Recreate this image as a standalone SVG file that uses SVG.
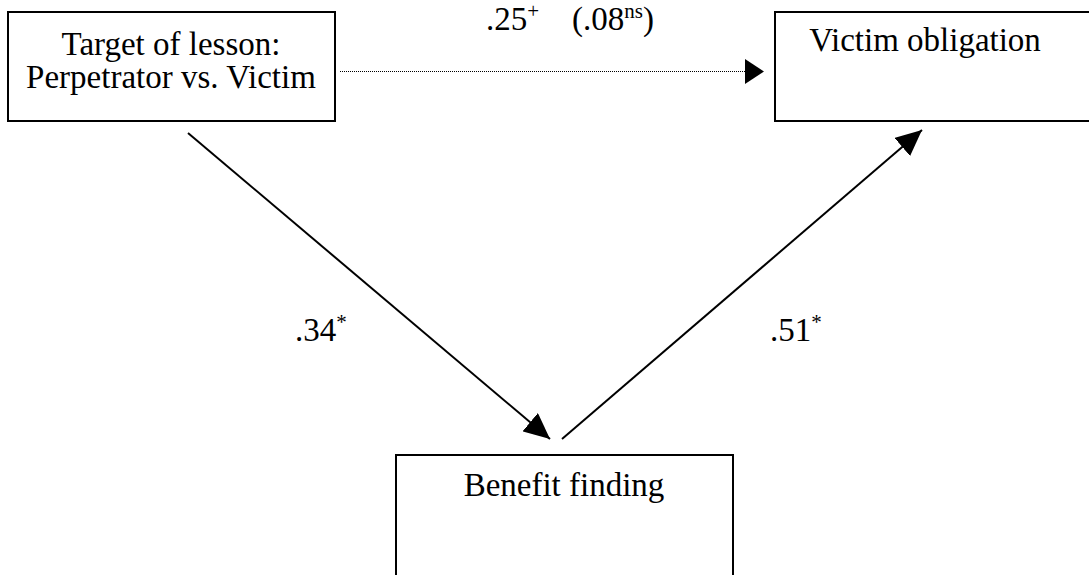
<svg xmlns="http://www.w3.org/2000/svg" width="1089" height="575" viewBox="0 0 1089 575">
<style>
.box{fill:#fff;stroke:#000;stroke-width:2}
.t{font-family:"Liberation Serif","Times New Roman",serif;font-size:33px;fill:#000}
.sup{font-size:21px}
.edge{stroke:#000;stroke-width:2;fill:none}
.dot{stroke:#000;stroke-width:1;stroke-dasharray:1 1;fill:none}
</style>
<defs>
<marker id="ah" viewBox="0 0 26 24" refX="26" refY="12" markerWidth="26" markerHeight="24" markerUnits="userSpaceOnUse" orient="auto">
<path d="M0,0 L26,12 L0,24 Z" fill="#000"/>
</marker>
</defs>
<g id="connectors">
<path class="dot" d="M340,71.5 L750,71.5"/>
<path d="M745,59 L764,71.5 L745,84 Z" fill="#000"/>
<path class="edge" d="M188,133 L550,439" marker-end="url(#ah)"/>
<path class="edge" d="M562,439 L922,130" marker-end="url(#ah)"/>
</g>
<g id="labels">
<text class="t" x="486" y="30">.25<tspan class="sup" dy="-12">+</tspan><tspan dy="12" xml:space="preserve">    (.08</tspan><tspan class="sup" dy="-12">ns</tspan><tspan dy="12">)</tspan></text>
<text class="t" x="295" y="341">.34<tspan class="sup" dy="-12">*</tspan></text>
<text class="t" x="770" y="341">.51<tspan class="sup" dy="-12">*</tspan></text>
</g>
<g id="node-target">
<rect class="box" x="8" y="12" width="327" height="109"/>
<text class="t" x="171" y="55" text-anchor="middle">Target of lesson:</text>
<text class="t" x="171" y="88" text-anchor="middle">Perpetrator vs. Victim</text>
</g>
<g id="node-obligation">
<rect class="box" x="775" y="12" width="330" height="109"/>
<text class="t" x="925" y="51" text-anchor="middle">Victim obligation</text>
</g>
<g id="node-benefit">
<rect class="box" x="396" y="455" width="337" height="140"/>
<text class="t" x="564" y="496" text-anchor="middle">Benefit finding</text>
</g>
</svg>
